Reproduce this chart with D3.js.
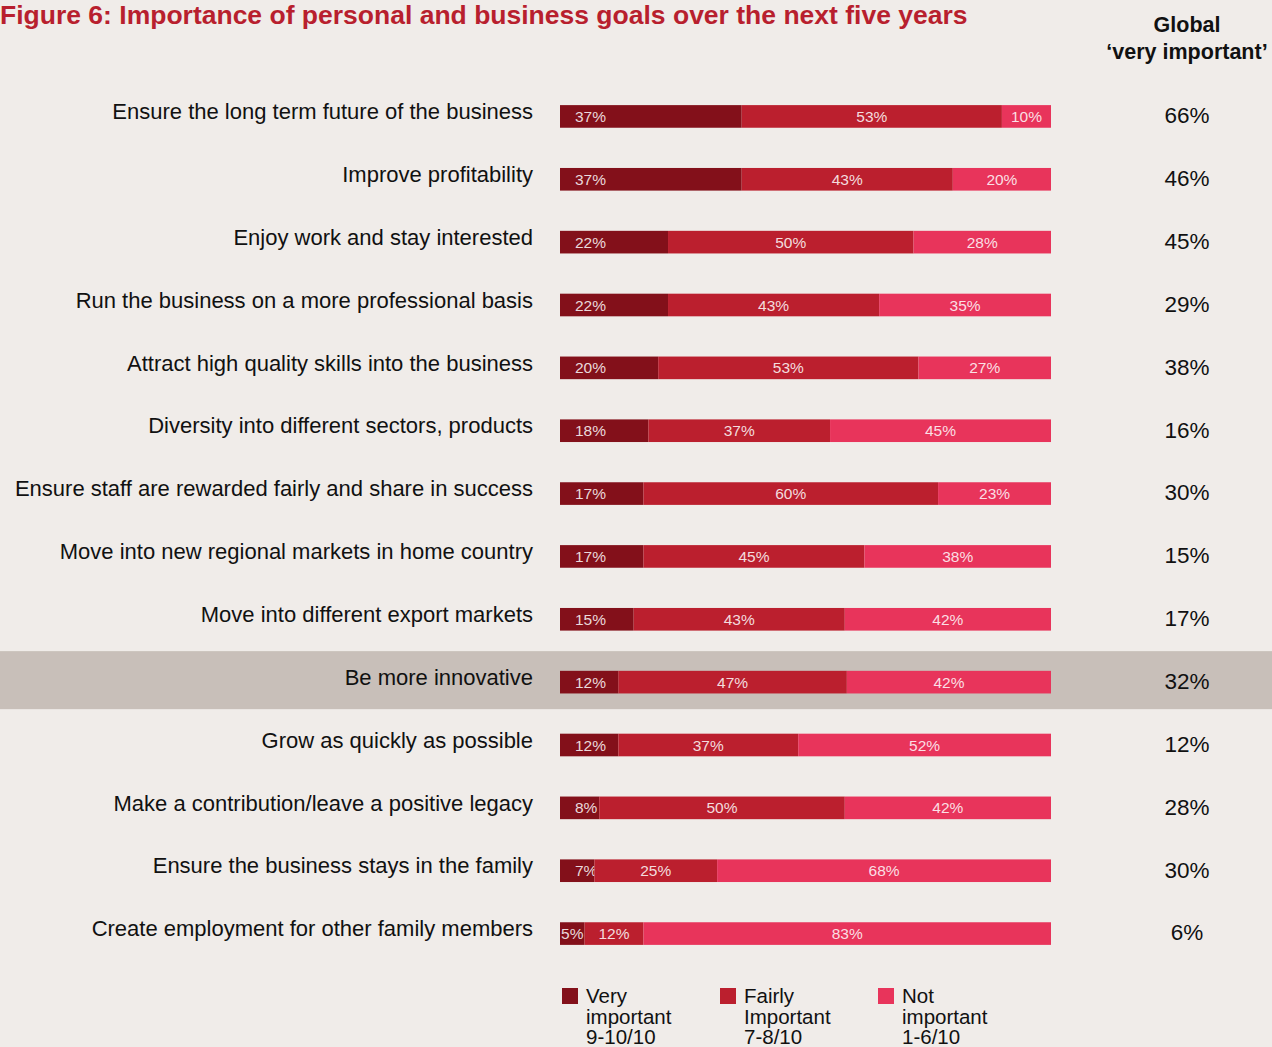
<!DOCTYPE html>
<html>
<head>
<meta charset="utf-8">
<script src="https://cdn.jsdelivr.net/npm/d3@7"></script>
<style>
  html, body { margin: 0; padding: 0; background: #f0ece9; }
  svg { display: block; }
</style>
</head>
<body>
<script>
// Goals, in display order
const categories = [
  "Ensure the long term future of the business",
  "Improve profitability",
  "Enjoy work and stay interested",
  "Run the business on a more professional basis",
  "Attract high quality skills into the business",
  "Diversity into different sectors, products",
  "Ensure staff are rewarded fairly and share in success",
  "Move into new regional markets in home country",
  "Move into different export markets",
  "Be more innovative",
  "Grow as quickly as possible",
  "Make a contribution/leave a positive legacy",
  "Ensure the business stays in the family",
  "Create employment for other family members"
];
// Survey shares (%)
const veryImportant   = [37, 37, 22, 22, 20, 18, 17, 17, 15, 12, 12, 8, 7, 5];
const fairlyImportant = [53, 43, 50, 43, 53, 37, 60, 45, 43, 47, 37, 50, 25, 12];
const notImportant    = [10, 20, 28, 35, 27, 45, 23, 38, 42, 42, 52, 42, 68, 83];
// Global 'very important' share (%)
const globalVery = [66, 46, 45, 29, 38, 16, 30, 15, 17, 32, 12, 28, 30, 6];
const highlighted = "Be more innovative";

const seriesKeys = ["very", "fairly", "not"];
const legendLines = [
  ["Very", "important", "9-10/10"],
  ["Fairly", "Important", "7-8/10"],
  ["Not", "important", "1-6/10"]
];

const W = 1272, H = 1047;
const FONT = "'Liberation Sans', Arial, Helvetica, sans-serif";
const colors = d3.scaleOrdinal().domain(seriesKeys).range(["#83101a", "#bb1f2e", "#e8345b"]);

const rows = categories.map((c, i) => ({
  cat: c, very: veryImportant[i], fairly: fairlyImportant[i], not: notImportant[i], global: globalVery[i]
}));

const svg = d3.select("body").append("svg").attr("width", W).attr("height", H)
  .style("background", "#f0ece9");

const y = d3.scaleBand().domain(categories).range([84, 964]).paddingInner(0.64).paddingOuter(0.32);
const x = d3.scaleLinear().domain([0, 1]).range([560, 1051]);

// highlighted row band
svg.append("rect")
  .attr("x", 0).attr("width", W)
  .attr("y", y(highlighted) + y.bandwidth() / 2 - 30).attr("height", 58)
  .attr("fill", "#c8bfb9");

// Title
svg.append("text")
  .attr("x", 0).attr("y", 24)
  .attr("font-family", FONT).attr("font-weight", "bold").attr("font-size", 26.5)
  .attr("fill", "#b81f2e")
  .text("Figure 6: Importance of personal and business goals over the next five years");

// Column header
const hdr = svg.append("text").attr("text-anchor", "middle")
  .attr("font-family", FONT).attr("font-weight", "bold").attr("font-size", 21.5).attr("fill", "#111");
hdr.append("tspan").attr("x", 1187).attr("y", 32).text("Global");
hdr.append("tspan").attr("x", 1187).attr("y", 59).text("\u2018very important\u2019");

// Stacked (row-normalised) bars
const stacked = d3.stack().keys(seriesKeys).offset(d3.stackOffsetExpand)(rows);

const layer = svg.append("g").selectAll("g").data(stacked).join("g")
  .attr("fill", d => colors(d.key));

layer.selectAll("rect").data(d => d.map(s => ({ s, key: d.key }))).join("rect")
  .attr("x", d => x(d.s[0]))
  .attr("width", d => x(d.s[1]) - x(d.s[0]))
  .attr("y", d => y(d.s.data.cat) + 1)
  .attr("height", y.bandwidth());

// Segment value labels
layer.selectAll("text").data(d => d.map(s => ({ s, key: d.key }))).join("text")
  .attr("font-family", FONT).attr("font-size", 15.5)
  .attr("fill", "#fff").attr("fill-opacity", 0.85)
  .attr("dy", "0.36em")
  .attr("y", d => y(d.s.data.cat) + y.bandwidth() / 2 + 1)
  .attr("x", d => {
    const x0 = x(d.s[0]), x1 = x(d.s[1]);
    if (d.key === "very" && x1 - x0 > 30) return x0 + 15;
    return (x0 + x1) / 2;
  })
  .attr("text-anchor", d => {
    const w = x(d.s[1]) - x(d.s[0]);
    return (d.key === "very" && w > 30) ? "start" : "middle";
  })
  .text(d => d.s.data[d.key] + "%");

// Category labels
svg.append("g").selectAll("text").data(rows).join("text")
  .attr("font-family", FONT).attr("font-size", 22).attr("fill", "#111")
  .attr("text-anchor", "end")
  .attr("x", 533)
  .attr("y", d => y(d.cat) + y.bandwidth() / 2 - 4)
  .attr("dy", "0.35em")
  .text(d => d.cat);

// Global 'very important' values
svg.append("g").selectAll("text").data(rows).join("text")
  .attr("font-family", FONT).attr("font-size", 22.5).attr("fill", "#111")
  .attr("text-anchor", "middle")
  .attr("x", 1187)
  .attr("y", d => y(d.cat) + y.bandwidth() / 2)
  .attr("dy", "0.35em")
  .text(d => d.global + "%");

// Legend
const lx = [562, 720, 878];
const lg = svg.append("g").selectAll("g").data(seriesKeys).join("g")
  .attr("transform", (d, i) => `translate(${lx[i]},988)`);
lg.append("rect").attr("width", 16).attr("height", 16).attr("fill", d => colors(d));
lg.append("text")
  .attr("font-family", FONT).attr("font-size", 20.5).attr("fill", "#111")
  .selectAll("tspan").data((d, i) => legendLines[i]).join("tspan")
  .attr("x", 24).attr("y", (d, j) => 15 + j * 20.5)
  .text(d => d);
</script>
</body>
</html>
